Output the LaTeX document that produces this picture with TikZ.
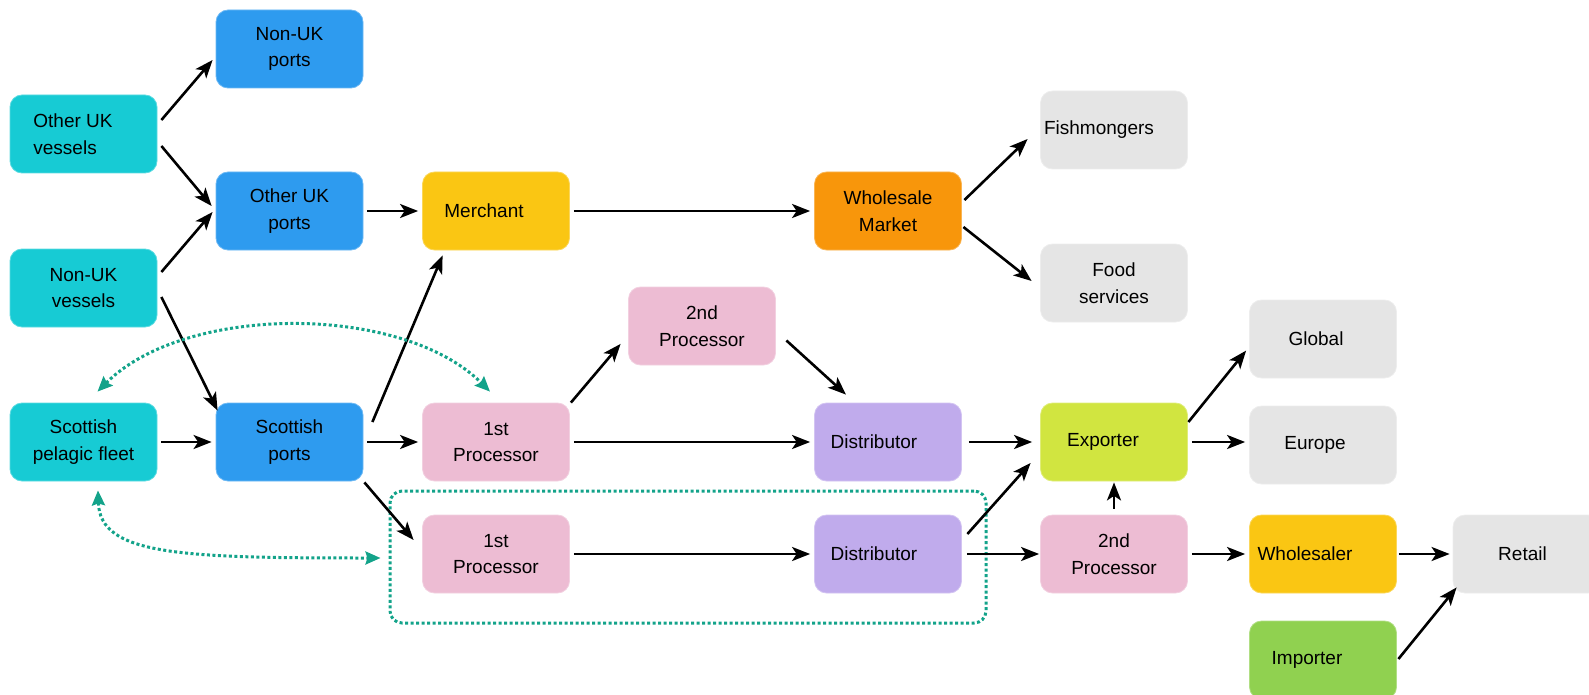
\documentclass[tikz,border=0pt]{standalone}
\usepackage{fontspec}
\setmainfont{Liberation Sans}
\usetikzlibrary{arrows.meta}

\definecolor{cVessel}{HTML}{17CBD4}
\definecolor{cPort}{HTML}{2E9BEF}
\definecolor{cTrade}{HTML}{FAC613}
\definecolor{cMarket}{HTML}{F8960B}
\definecolor{cSink}{HTML}{E5E5E5}
\definecolor{cProc}{HTML}{EDBCD3}
\definecolor{cDist}{HTML}{C0ABEC}
\definecolor{cExport}{HTML}{D1E540}
\definecolor{cImport}{HTML}{90D150}
\definecolor{cTie}{HTML}{13A38A}

\begin{document}
\begin{tikzpicture}[
	x=1pt, y=-1pt,
	font=\fontsize{19}{26.5}\selectfont,
	box/.style={rounded corners=12pt, minimum width=147pt, minimum height=78pt,
		inner sep=0pt, align=center, fill=#1, draw=#1!70!white, line width=0.8pt},
	lbl/.style 2 args={label={[xshift=#1, align=left]center:#2}},
	link/.style={line width=2.6pt, -{Stealth[length=18pt,width=14pt,inset=4.5pt]}},
	gap/.style={shorten <=4pt, shorten >=4pt},
	grp/.style={draw=cTie, line width=3pt, dash pattern=on 3pt off 2.5pt, rounded corners=12pt},
	tie/.style={draw=cTie, line width=3pt, dash pattern=on 3pt off 2.5pt,
		{Stealth[length=15pt,width=13pt,inset=2pt]}-{Stealth[length=15pt,width=13pt,inset=2pt]}}]
	\useasboundingbox (0,0) rectangle (1589,695);

	% sources and ports
	\node[box=cVessel, lbl={-10.5pt}{Other UK\\vessels}] (ouvess) at (83.5,134) {};
	\node[box=cVessel] (nukvess) at (83.5,288) {Non-UK\\vessels};
	\node[box=cVessel] (sfleet) at (83.5,442) {Scottish\\pelagic fleet};
	\node[box=cPort] (nukports) at (289.5,49) {Non-UK\\ports};
	\node[box=cPort] (oukports) at (289.5,211) {Other UK\\ports};
	\node[box=cPort] (sports) at (289.5,442) {Scottish\\ports};

	% processing chain
	\node[box=cTrade, lbl={-12pt}{Merchant}] (merch) at (496,211) {};
	\node[box=cProc] (proc1t) at (496,442) {1st\\Processor};
	\node[box=cProc] (proc1b) at (496,554) {1st\\Processor};
	\node[box=cProc] (proc2t) at (702,326) {2nd\\Processor};
	\node[box=cMarket] (wmarket) at (888,211) {Wholesale\\Market};
	\node[box=cDist, lbl={-14pt}{Distributor}] (distt) at (888,442) {};
	\node[box=cDist, lbl={-14pt}{Distributor}] (distb) at (888,554) {};
	\node[grp, minimum width=596pt, minimum height=132pt] (grp) at (688,557) {};

	% outlets
	\node[box=cSink, lbl={-15pt}{Fishmongers}] (fishm) at (1114,130) {};
	\node[box=cSink] (foods) at (1114,283) {Food\\services};
	\node[box=cExport, lbl={-11pt}{Exporter}] (export) at (1114,442) {};
	\node[box=cProc] (proc2b) at (1114,554) {2nd\\Processor};
	\node[box=cSink, lbl={-7pt}{Global}] (global) at (1323,339) {};
	\node[box=cSink, lbl={-8pt}{Europe}] (europe) at (1323,445) {};
	\node[box=cTrade, lbl={-18pt}{Wholesaler}] (wsaler) at (1323,554) {};
	\node[box=cImport, lbl={-16pt}{Importer}] (import) at (1323,660) {};
	\node[box=cSink, lbl={-4pt}{Retail}] (retail) at (1526.5,554) {};

	% flows
	\draw[link] ([shift={(4,-14)}]ouvess.east) -- ([shift={(-3,11)}]nukports.west);
	\draw[link] ([shift={(4,12)}]ouvess.east) -- ([shift={(-4,-5)}]oukports.west);
	\draw[link] ([shift={(4,-16)}]nukvess.east) -- ([shift={(-3,1)}]oukports.west);
	\draw[link] ([shift={(4,9)}]nukvess.east) -- ([shift={(2,8)}]sports.north west);
	\draw[link, gap] (sfleet.east) -- (sports.west);
	\draw[link] ([shift={(9,-20)}]sports.east) -- ([shift={(20.5,5)}]merch.south west);
	\draw[link, gap] (sports.east) -- (proc1t.west);
	\draw[link] ([shift={(1,1)}]sports.south east) -- ([shift={(-8.5,-14)}]proc1b.west);
	\draw[link, gap] (oukports.east) -- (merch.west);
	\draw[link, gap] (merch.east) -- (wmarket.west);
	\draw[link] ([shift={(2.5,-11)}]wmarket.east) -- ([shift={(-12.5,9)}]fishm.west);
	\draw[link] ([shift={(1.5,16)}]wmarket.east) -- ([shift={(-8.5,-2)}]foods.west);
	\draw[link] ([shift={(1,0)}]proc1t.north east) -- ([shift={(-7.5,-21.5)}]proc2t.south west);
	\draw[link] ([shift={(10.5,14.5)}]proc2t.east) -- ([shift={(-42,-8)}]distt.north);
	\draw[link, gap] (proc1t.east) -- (distt.west);
	\draw[link, gap] (proc1b.east) -- (distb.west);
	\draw[link, shorten <=7pt, shorten >=8pt] (distt.east) -- (export.west);
	\draw[link] ([shift={(5.5,-20)}]distb.east) -- ([shift={(-9.5,21)}]export.west);
	\draw[link, shorten <=5pt, shorten >=1pt] (distb.east) -- (proc2b.west);
	\draw[link, shorten <=6pt, shorten >=1pt] (proc2b.north) -- (export.south);
	\draw[link] ([shift={(0.5,-20)}]export.east) -- ([shift={(-3,11.6)}]global.west);
	\draw[link, gap] (export.east) -- (europe.west |- export.east);
	\draw[link, gap] (proc2b.east) -- (wsaler.west);
	\draw[link, shorten <=2pt, shorten >=3pt] (wsaler.east) -- (retail.west);
	\draw[link] ([shift={(1.5,-1)}]import.east) -- ([shift={(4,-6)}]retail.south west);

	% links of the fleet
	\draw[tie] ([shift={(14,-11)}]sfleet.north) .. controls +(88,-88) and +(-88,-88) .. ([shift={(-6,-11)}]proc1t.north);
	\draw[tie] ([shift={(14.5,9)}]sfleet.south) .. controls +(2,65) and +(-200,0) .. ([shift={(-8,1)}]grp.west);
\end{tikzpicture}
\end{document}
